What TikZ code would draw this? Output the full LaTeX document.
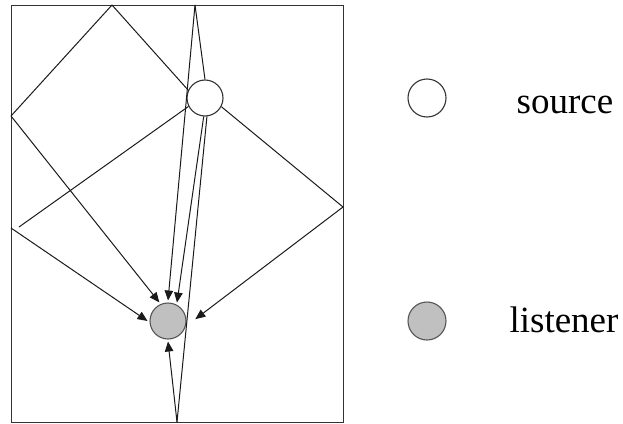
\documentclass[tikz,border=0pt]{standalone}
\usepackage{fontspec}
\setmainfont{Liberation Serif}
\usetikzlibrary{arrows.meta}
\definecolor{lisFill}{HTML}{C0C0C0}
\definecolor{rimGray}{HTML}{555555}
\definecolor{wallInk}{HTML}{333333}
\definecolor{rayInk}{HTML}{1A1A1A}

\begin{document}
\begin{tikzpicture}[
  x=1pt, y=-1pt,
  wall/.style={draw=wallInk, line width=1pt},
  ray/.style={draw=rayInk, line width=1pt},
  hit/.style={ray, -{Triangle[length=10pt,width=8.5pt]}},
  srcdot/.style={circle, draw=black!80, line width=1.1pt, fill=white,
                 minimum size=36pt, inner sep=0pt},
  lisdot/.style={circle, draw=rimGray, line width=1.1pt, fill=lisFill,
                 minimum size=36pt, inner sep=0pt, outer sep=2.5pt},
  key/.style={font=\fontsize{37}{40}\selectfont, anchor=base, inner sep=0pt},
]
\useasboundingbox (0,0) rectangle (623,423);

% ---------------- ROOM ----------------
\draw[wall] (11,5) rectangle (343,422);

% ---------------- NODES ----------------
\node[srcdot] (SRC) at (205,98) {};
\node[lisdot] (LIS) at (168,321) {};

% reflection points on the walls
\coordinate (TOPA) at (112,5);
\coordinate (TOPB) at (195,5);
\coordinate (LEFTA) at (11,116);
\coordinate (LEFTB) at (11,228);
\coordinate (NEARB) at (19,227);
\coordinate (RIGHTA) at (343,207);
\coordinate (BOTA) at (177,422);

% ---------------- RAYS ----------------
% top wall, then left wall
\draw[ray] (SRC.155) -- (TOPA) -- (LEFTA);
\draw[hit] (LEFTA) -- (LIS.115);
% left wall
\draw[ray] (SRC.207) -- (NEARB);
\draw[hit] (LEFTB) -- (LIS.west);
% right wall
\draw[ray] (SRC.332) -- (RIGHTA);
\draw[hit, shorten >=9pt] (RIGHTA) -- (LIS.-10);
% top wall
\draw[ray] (SRC.north) -- (TOPB);
\draw[hit] (TOPB) -- (LIS.north);
% direct path
\draw[hit] (SRC.266) -- (LIS.64);
% floor
\draw[ray] (SRC.276) -- (BOTA);
\draw[hit] (BOTA) -- (LIS.south);

% ---------------- LEGEND ----------------
\node[srcdot, minimum size=38pt] (KEYSRC) at (427,98) {};
\node[lisdot, minimum size=38pt] (KEYLIS) at (427,321) {};
\node[key] (SRCTXT) at (565,113) {source};
\node[key] (LISTXT) at (564,332) {listener};
\end{tikzpicture}
\end{document}
